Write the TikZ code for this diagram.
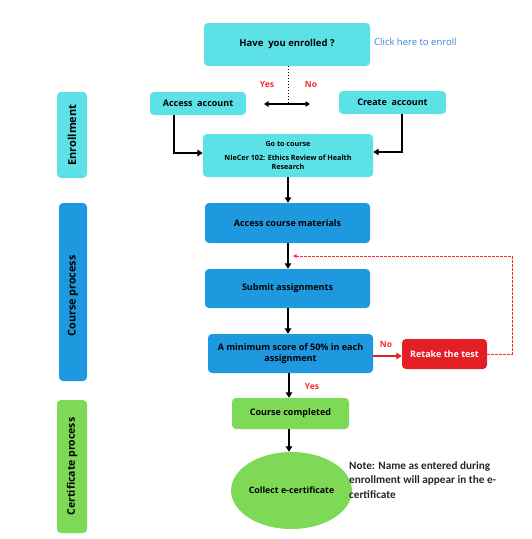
\documentclass[tikz,border=0pt]{standalone}
\usepackage{fontspec}
\setmainfont{Open Sans}
\newfontfamily\notefont{Carlito}
\usetikzlibrary{arrows.meta,shapes.geometric}
\definecolor{cyanbox}{HTML}{5CE1E6}
\definecolor{bluebox}{HTML}{1E98DF}
\definecolor{greenbox}{HTML}{7ED957}
\definecolor{redbox}{HTML}{E41E25}
\definecolor{redtext}{HTML}{FF2A2A}
\definecolor{linkblue}{HTML}{3F7FD6}
\begin{document}
\begin{tikzpicture}[x=1pt,y=-1pt,
  box/.style={rectangle,rounded corners=4pt,draw=none,align=center,inner sep=1pt,font=\fontsize{9}{11}\selectfont\bfseries},
  cbox/.style={box,fill=cyanbox},
  bbox/.style={box,fill=bluebox},
  gbox/.style={box,fill=greenbox},
  side/.style={rectangle,rounded corners=4pt,draw=none,inner sep=0pt},
  arr/.style={line width=1.6pt,-{Triangle[length=5.5pt,width=6.5pt]}},
  lbl/.style={text=redtext,font=\fontsize{8.5}{10}\selectfont\bfseries,inner sep=0pt}
]
\useasboundingbox (0,0) rectangle (531,539);
% side bars
\node[side,fill=cyanbox,minimum width=30pt,minimum height=86pt] (s1) at (72,135) {};
\node[rotate=90,font=\fontsize{11}{13}\selectfont\bfseries] (s1t) at (s1.center) {Enrollment};
\node[side,fill=bluebox,minimum width=28pt,minimum height=178pt] (s2) at (73,292) {};
\node[rotate=90,font=\fontsize{10.8}{13}\selectfont\bfseries] (s2t) at (73,296) {Course process};
\node[side,fill=greenbox,minimum width=30pt,minimum height=133pt] (s3) at (72,466.5) {};
\node[rotate=90,font=\fontsize{10.5}{12}\selectfont\bfseries] (s3t) at (s3.center) {Certificate process};
% main boxes
\node[cbox,minimum width=166pt,minimum height=43pt,font=\fontsize{9.5}{11}\selectfont\bfseries] (enr) at (287,44.5) {Have\ \ you enrolled ?};
\node[anchor=west,text=linkblue,font=\fontsize{9.5}{11}\selectfont,inner sep=0pt] (click) at (374,42) {Click here to enroll};
\node[cbox,minimum width=96pt,minimum height=23pt] (acc) at (198,103.5) {Access\ \ account};
\node[cbox,minimum width=107pt,minimum height=23pt] (cre) at (392.5,102.5) {Create\ \ account};
\node[cbox,minimum width=170pt,minimum height=43pt,font=\fontsize{7.2}{9}\selectfont\bfseries] (goto) at (288,155.5) {Go to course\\[5pt]NIeCer 102: Ethics Review of Health\\Research};
\node[bbox,minimum width=165pt,minimum height=40pt] (mat) at (287.5,223) {Access course materials};
\node[bbox,minimum width=165pt,minimum height=39pt] (sub) at (287.5,288.5) {Submit assignments};
\node[bbox,minimum width=165pt,minimum height=39pt] (min) at (290.5,353.5) {A minimum score of 50\% in each\\assignment};
\node[box,fill=redbox,text=white,minimum width=85pt,minimum height=30pt] (ret) at (444.5,354) {Retake the test};
\node[gbox,minimum width=117pt,minimum height=31pt] (done) at (290.5,413.5) {Course completed};
\node[ellipse,fill=greenbox,minimum width=109pt,minimum height=77pt,inner sep=0pt,font=\fontsize{8.8}{10}\selectfont\bfseries] (cert) at (291.5,490.5) {Collect e-certificate};
\node[anchor=north west,align=left,inner sep=0pt,font=\notefont\fontsize{11.2}{14.5}\selectfont\bfseries,text=black!85] (note) at (349,461) {Note: Name as entered during\\enrollment will appear in the e-\\certificate};
% enrolled decision
\coordinate (dm) at (288,104);
\coordinate (dl) at (264,104);
\coordinate (dr) at (310,104);
\draw[line width=1pt,dotted] (enr.south -| dm) -- (dm);
\draw[line width=1.5pt,{Triangle[length=4.5pt,width=5.5pt]}-{Triangle[length=4.5pt,width=5.5pt]}] (dl) -- (dr);
\node[lbl] (yes1) at (267,85) {Yes};
\node[lbl] (no1) at (311,85) {No};
% into go to course
\coordinate (a1) at (174,153);
\coordinate (c1) at (402,152);
\draw[arr] (acc.south -| a1) -- (a1) -- (goto.west |- a1);
\draw[arr] (cre.south -| c1) -- (c1) -- (goto.east |- c1);
% main flow
\coordinate (fx) at (288,0);
\draw[arr] (goto.south -| fx) -- (mat.north -| fx);
\draw[arr] (mat.south -| fx) -- (sub.north -| fx);
\draw[arr] (sub.south -| fx) -- (min.north -| fx);
\coordinate (gx) at (289,0);
\draw[arr] (min.south -| gx) -- (done.north -| gx);
\draw[arr] (done.south -| gx) -- (cert.north -| gx);
\node[lbl] (yes2) at (312,387) {Yes};
% no branch
\coordinate (ny) at (0,356);
\draw[line width=1.6pt,redbox,-{Triangle[length=5.5pt,width=6.5pt]}] (min.east |- ny) -- (ret.west |- ny);
\node[lbl] (no2) at (386,345) {No};
% retake loop
\coordinate (rr) at (512,354);
\coordinate (rt) at (512,256);
\coordinate (rend) at (293,256);
\draw[redtext,line width=0.8pt,dash pattern=on 2.5pt off 1.5pt,-{Triangle[length=3.5pt,width=3.5pt]}] (ret.east) -- (rr) -- (rt) -- (rend);
\end{tikzpicture}
\end{document}
